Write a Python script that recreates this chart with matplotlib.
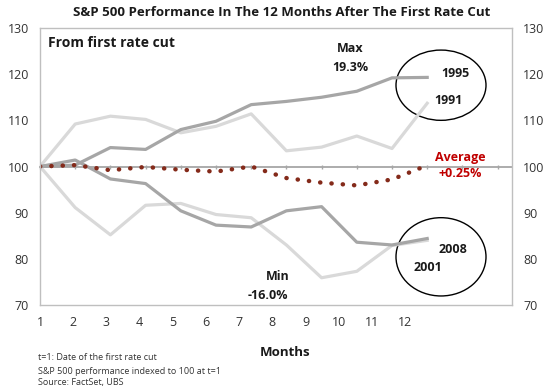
import numpy as np
import matplotlib
matplotlib.use('Agg')
from matplotlib import pyplot as plt
from matplotlib.patches import Ellipse

plt.rcParams['font.family'] = ['Open Sans', 'DejaVu Sans']

# S&P 500 indexed to 100 at the first rate cut
months = list(range(1, 13))
idx = np.arange(12)
s1995 = [100, 100.3, 104.1, 103.7, 108.0, 109.8, 113.4, 114.1, 115.0, 116.3, 119.2, 119.3]
s1991 = [100, 109.2, 110.9, 110.2, 107.3, 108.7, 111.4, 103.4, 104.2, 106.6, 103.9, 113.7]
s2008 = [100, 101.4, 97.3, 96.3, 90.4, 87.3, 86.9, 90.4, 91.3, 83.6, 83.0, 84.4]
s2001 = [100, 91.1, 85.2, 91.6, 92.0, 89.6, 88.9, 83.0, 75.9, 77.3, 82.9, 84.0]
avg = [100, 100.3, 99.2, 99.9, 99.3, 98.9, 100.0, 97.5, 96.5, 95.9, 97.2, 100.25]
yticks = [70, 80, 90, 100, 110, 120, 130]

dark = '#a6a6a6'
light = '#d9d9d9'
red = '#c00000'

fig = plt.figure(figsize=(5.5, 3.86), dpi=100)
ax = fig.add_axes([40/550, 81/386, 472/550, 277/386])
ax2 = ax.twiny()

ax.plot(idx, s1991, color=light, lw=2.3, solid_joinstyle='round')
ax.plot(idx, s2001, color=light, lw=2.3, solid_joinstyle='round')
ax.plot(idx, s1995, color=dark, lw=2.3, solid_joinstyle='round')
ax.plot(idx, s2008, color=dark, lw=2.3, solid_joinstyle='round')
ax.plot(idx, avg, color='#842a1a', lw=3.2, linestyle=(0, (0.05, 2.5)),
        dash_capstyle='round')

ax.set_xlim(0, 472/35.2)
ax.set_ylim(70, 130)
ax.set_yticks(yticks)
ax.tick_params(axis='y', length=0, labelsize=9, labelcolor='#333333', pad=8,
               right=True, labelright=True)
ax.set_xticks(idx * 33.2 / 35.2)
ax.set_xticklabels(months)
ax.tick_params(axis='x', length=0, labelsize=9, labelcolor='#333333', pad=8)
for sp in ax.spines.values():
    sp.set_color('#bfbfbf')
    sp.set_linewidth(1.0)

# axis line at 100
ax2.set_xlim(ax.get_xlim())
ax2.set_xticks(range(14))
ax2.tick_params(axis='x', length=3, direction='inout', color='#a6a6a6',
                labeltop=False, width=1)
for k, sp in ax2.spines.items():
    sp.set_visible(k == 'top')
ax2.spines['top'].set_position(('data', 100))
ax2.spines['top'].set_color('#a6a6a6')
ax2.spines['top'].set_linewidth(1.3)
ax.set_zorder(ax2.get_zorder() + 1)
ax.patch.set_visible(False)

def px(x, y):
    return ((x - 40) / 35.2, 70 + (304 - y) / 4.6)

t = dict(fontweight='bold', fontsize=9, ha='center', va='center', color='#1a1a1a')
ax.text(*px(48, 43), 'From first rate cut', fontsize=10, fontweight='bold',
        ha='left', va='center', color='#1a1a1a')
ax.text(*px(350, 48), 'Max', **t)
ax.text(*px(350, 67), '19.3%', **t)
ax.text(*px(278, 276), 'Min', **t)
ax.text(*px(268, 295), '-16.0%', **t)
ax.text(*px(455, 73), '1995', **t)
ax.text(*px(448, 100), '1991', **t)
ax.text(*px(453, 249), '2008', **t)
ax.text(*px(428, 267), '2001', **t)
ax.text(*px(460, 157), 'Average', fontweight='bold', fontsize=9, ha='center',
        va='center', color=red)
ax.text(*px(460, 173), '+0.25%', fontweight='bold', fontsize=9, ha='center',
        va='center', color=red)

for cx, cy, h in [(441, 85, 70), (441, 256, 78)]:
    ax.add_patch(Ellipse(px(cx, cy), 90/35.2, h/4.6, fill=False,
                         edgecolor='black', lw=1.0))

fig.text(282/550, 1 - 13/386, 'S&P 500 Performance In The 12 Months After The First Rate Cut',
         ha='center', va='center', fontsize=9.5, fontweight='bold', color='#1a1a1a')
fig.text(285/550, 1 - 352/386, 'Months', ha='center', va='center', fontsize=9.5,
         fontweight='bold', color='#1a1a1a')
fig.text(38/550, 1 - 358/386, 't=1: Date of the first rate cut', fontsize=6.5,
         ha='left', va='center', color='#333333')
fig.text(38/550, 1 - 371/386, 'S&P 500 performance indexed to 100 at t=1',
         fontsize=6.5, ha='left', va='center', color='#333333')
fig.text(38/550, 1 - 383/386, 'Source: FactSet, UBS', fontsize=6.5, ha='left',
         va='center', color='#333333')

fig.savefig('out.png', dpi=100)
